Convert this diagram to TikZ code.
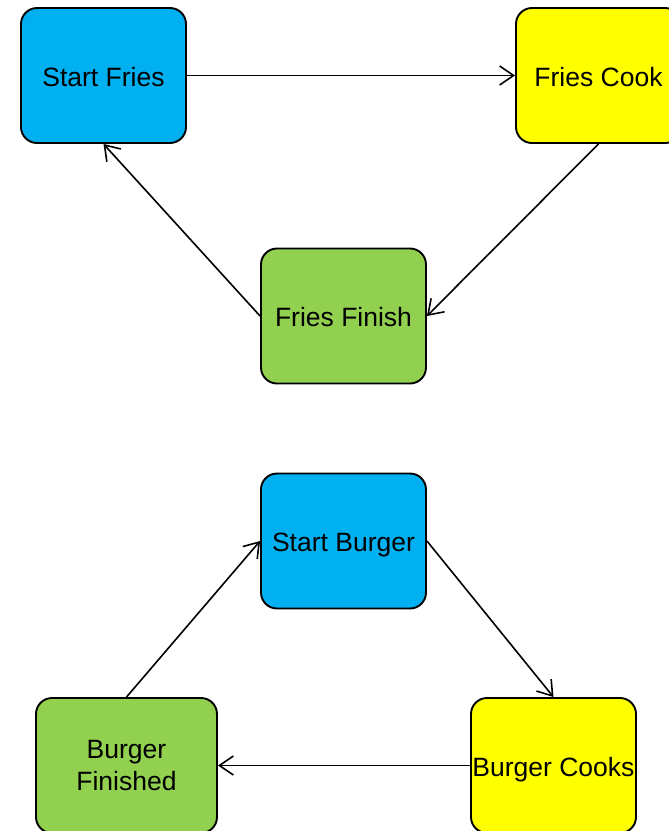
\documentclass[tikz,border=0pt]{standalone}
\usepackage{fontspec}
\setmainfont{Liberation Sans}
\usetikzlibrary{arrows.meta}
\definecolor{cblue}{HTML}{00B0F0}
\definecolor{cyellow}{HTML}{FFFF00}
\definecolor{cgreen}{HTML}{92D050}
\begin{document}
\begin{tikzpicture}[x=1pt,y=-1pt,
  box/.style={draw=black, line width=1.9pt, rounded corners=16pt,
    minimum width=165pt, minimum height=135pt, inner sep=0pt,
    font=\fontsize{26.5}{31.5}\selectfont, align=center},
  oneline/.style={text height=21.5pt, text depth=0pt},
  conn/.style={draw=black, line width=1.6pt,
    -{Straight Barb[length=14pt,width=19pt,line width=1.6pt]}}
]
\useasboundingbox (0,0) rectangle (669,831);
\node[box, oneline, fill=cblue]   (sf) at (103.5,75.5)  {Start Fries};
\node[box, oneline, fill=cyellow] (fc) at (598.5,75.5)  {Fries Cook};
\node[box, oneline, fill=cgreen]  (ff) at (343.5,316)   {Fries Finish};
\node[box, oneline, fill=cblue]   (sb) at (343.5,541)   {Start Burger};
\node[box, oneline, fill=cyellow] (bc) at (553.5,765.5) {Burger Cooks};
\node[box, fill=cgreen, minimum width=181pt] (bf) at (126.5,765.5) {Burger\\Finished};
\draw[conn] (sf.east) -- (fc.west);
\draw[conn] (fc.south) -- (ff.east);
\draw[conn] (ff.west) -- (sf.south);
\draw[conn] (sb.east) -- (bc.north);
\draw[conn] (bc.west) -- (bf.east);
\draw[conn] (bf.north) -- (sb.west);
\end{tikzpicture}
\end{document}
